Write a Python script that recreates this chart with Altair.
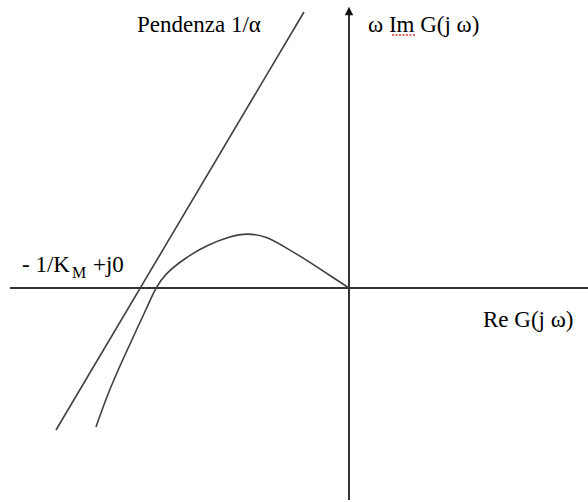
import altair as alt
import pandas as pd

# Nonlinear system frequency locus (modified Nyquist / Popov plot)
re_g = [-2.53, -2.41, -2.26, -2.11, -2.02, -1.935, -1.84, -1.64, -1.42, -1.19,
        -1.02, -0.82, -0.66, -0.49, -0.32, -0.16, 0.0]
w_im_g = [-1.39, -1.05, -0.71, -0.385, -0.195, 0.0, 0.14, 0.30, 0.43, 0.515,
          0.55, 0.515, 0.42, 0.32, 0.21, 0.105, 0.0]

# Popov line with slope 1/alpha through -1/K_M + j0
popov_re = [-2.93, -0.45]
popov_im = [-1.42, 2.76]

# Axes extents
re_axis = [-3.39, 2.39]
im_axis = [-2.12, 2.82]

W, H = 588, 502
xs = alt.Scale(domain=[-3.49, 2.39], nice=False, zero=False)
ys = alt.Scale(domain=[-2.14, 2.88], nice=False, zero=False)
X = lambda f: alt.X(f, type="quantitative", scale=xs, axis=None)
Y = lambda f: alt.Y(f, type="quantitative", scale=ys, axis=None)

axis_col = "#333333"
curve_col = "#404040"
font = "Liberation Serif, Times New Roman, serif"
fs = 23

locus = alt.Chart(pd.DataFrame({"re": re_g, "im": w_im_g})).mark_line(
    color=curve_col, strokeWidth=1.6, interpolate="basis"
).encode(x=X("re"), y=Y("im"))

popov = alt.Chart(pd.DataFrame({"re": popov_re, "im": popov_im})).mark_line(
    color=curve_col, strokeWidth=1.6
).encode(x=X("re"), y=Y("im"))

h_axis = alt.Chart(pd.DataFrame({"a": [re_axis[0]], "b": [re_axis[1]], "y": [0.0]})).mark_rule(
    color=axis_col, strokeWidth=2
).encode(x=X("a"), x2="b", y=Y("y"))

v_axis = alt.Chart(pd.DataFrame({"x": [0.0], "a": [im_axis[0]], "b": [im_axis[1] - 0.06]})).mark_rule(
    color=axis_col, strokeWidth=2
).encode(x=X("x"), y=Y("a"), y2="b")

arrow = alt.Chart(pd.DataFrame({"x": [0.0], "y": [im_axis[1] - 0.05]})).mark_point(
    shape="M-1,1L0,-1L1,1Z", size=70, filled=True, color="#111111", opacity=1
).encode(x=X("x"), y=Y("y"))


def label(txt, x, y, size=fs):
    return alt.Chart(pd.DataFrame({"t": [txt]})).mark_text(
        font=font, fontSize=size, align="left", baseline="alphabetic", color="#000000"
    ).encode(text="t:N", x=alt.value(x), y=alt.value(y))


labels = [
    label("Pendenza 1/α", 137, 32),
    label("ω Im G(j ω)", 368, 32),
    label("Re G(j ω)", 483, 327),
    label("- 1/K", 22, 272),
    label("M", 72, 278, 16),
    label("+j0", 93, 272),
]

# spell-check style wavy underline beneath "Im"
squiggle = alt.Chart(pd.DataFrame({"a": [0]})).mark_rule(
    color="#e03030", strokeWidth=1.4, strokeDash=[2, 1.5]
).encode(x=alt.value(392), x2=alt.value(415), y=alt.value(35))

chart = alt.layer(h_axis, v_axis, popov, locus, arrow, squiggle, *labels).properties(
    width=W, height=H
).configure(
    autosize=alt.AutoSizeParams(type="none"), padding=0, background="white"
).configure_view(stroke=None)

chart.save("out.html", embed_options={"renderer": "svg", "actions": False})
